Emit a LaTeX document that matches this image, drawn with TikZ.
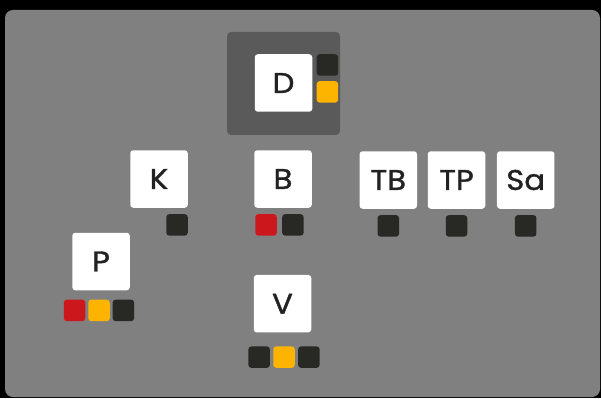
\documentclass[tikz,border=0pt]{standalone}
\usepackage{fontspec}
\setmainfont{Poppins}
\newfontfamily\tilefont{Poppins}[FakeBold=1.2, FakeStretch=1.08]
\usepackage{xcolor}
\usepackage{tikz}
\usetikzlibrary{positioning}

\definecolor{panelgray}{HTML}{808080}
\definecolor{shadegray}{HTML}{5A5A5A}
\definecolor{chipdark}{HTML}{282824}
\definecolor{chipred}{HTML}{CC181D}
\definecolor{chipyellow}{HTML}{FCB400}
\definecolor{letterdark}{HTML}{222222}

\tikzset{
    tile/.style={fill=white, rounded corners=3pt, minimum size=57.5pt, inner sep=0pt,
        text=letterdark, font=\tilefont\fontsize{28.5}{28.5}\selectfont},
    chip/.style={fill=#1, rounded corners=3pt, minimum size=21.5pt, inner sep=0pt}
}

\begin{document}
\begin{tikzpicture}[x=1pt, y=-1pt]

    % =================================================================
    % 1. BACKGROUND AND PANELS
    % =================================================================
    \fill[black] (0,0) rectangle (601,398);
    \useasboundingbox (0,0) rectangle (601,398);

    % Gray panel
    \fill[panelgray, rounded corners=8pt] (5,10) rectangle (600,397);

    % Darker box behind D
    \fill[shadegray, rounded corners=4pt] (227,32) rectangle (340,135);

    % =================================================================
    % 2. LETTER TILES
    % =================================================================
    \node[tile] (D) at (283.5,83) {D};

    \node[tile] (K) at (159,179) {K};
    \node[tile] (B) at (283,179) {B};
    \node[tile] (TB) at (388.3,180) {TB};
    \node[tile] (TP) at (456.5,180) {TP};
    \node[tile] (Sa) at (525.7,180) {Sa};

    \node[tile] (P) at (101,261.5) {P};
    \node[tile] (V) at (282.5,303.7) {V};

    % =================================================================
    % 3. COLOUR CHIPS
    % =================================================================
    % D: chips on the right
    \node[chip=chipdark, right=4pt of D.north east, anchor=north west] (D1) {};
    \node[chip=chipyellow, below=5pt of D1] (D2) {};

    % K
    \node[chip=chipdark, below=6pt of K.south east, anchor=north east] (K1) {};

    % B
    \node[chip=chipred, below=6pt of B.south west, anchor=north west, xshift=1pt] (B1) {};
    \node[chip=chipdark, right=5pt of B1] (B2) {};

    % TB, TP, Sa
    \node[chip=chipdark, below=6pt of TB] (TB1) {};
    \node[chip=chipdark, below=6pt of TP] (TP1) {};
    \node[chip=chipdark, below=6pt of Sa] (Sa1) {};

    % P
    \node[chip=chipyellow, below=9pt of P, xshift=-2pt] (P2) {};
    \node[chip=chipred, left=2.5pt of P2] (P1) {};
    \node[chip=chipdark, right=2.5pt of P2] (P3) {};

    % V
    \node[chip=chipyellow, below=13.5pt of V, xshift=1.5pt] (V2) {};
    \node[chip=chipdark, left=3pt of V2] (V1) {};
    \node[chip=chipdark, right=3pt of V2] (V3) {};

\end{tikzpicture}
\end{document}
